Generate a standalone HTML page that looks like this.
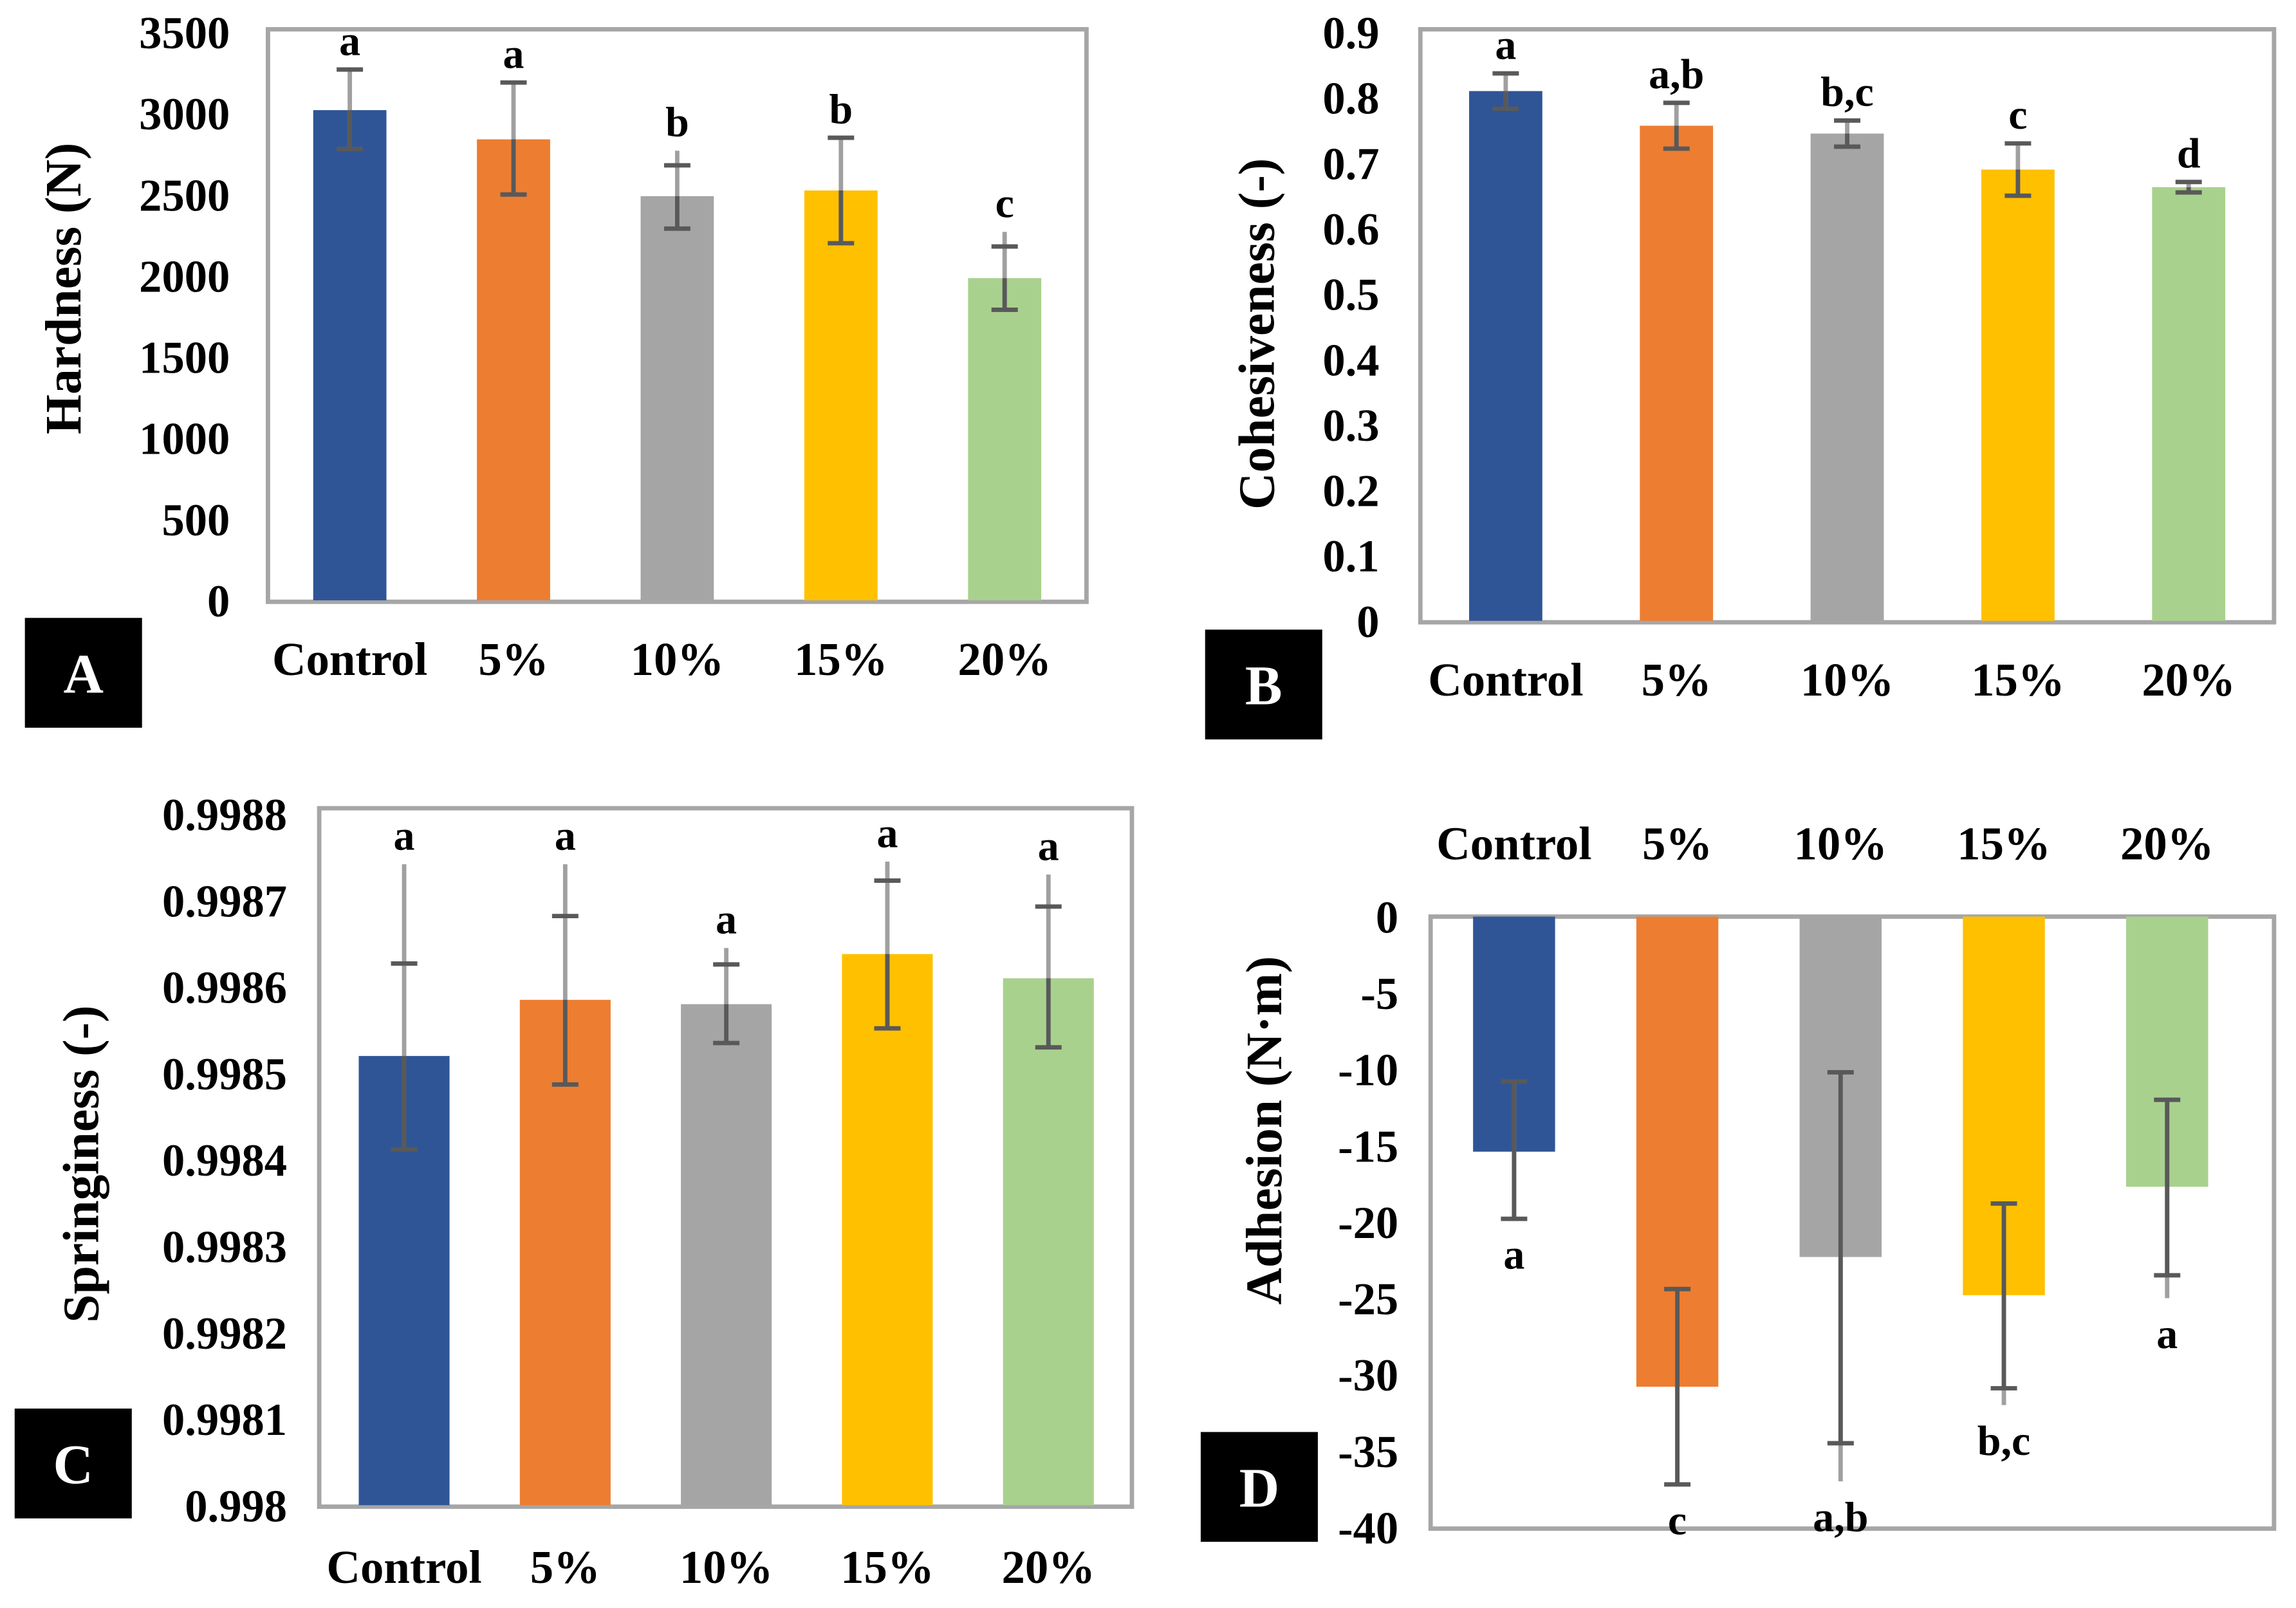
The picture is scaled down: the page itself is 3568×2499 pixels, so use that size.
<!DOCTYPE html>
<html><head><meta charset="utf-8"><style>
html,body{margin:0;padding:0;background:#fff}
svg{display:block}
text{font-family:"Liberation Serif",serif;font-weight:bold;fill:#000}
</style></head><body>
<svg id="s" width="3568" height="2499" viewBox="0 0 1568 1098.2" preserveAspectRatio="none" xmlns="http://www.w3.org/2000/svg"></svg>
<script>
const categories=["Control","5%","10%","15%","20%"];
const colors=["#2F5597","#ED7D31","#A5A5A5","#FFC000","#A9D18E"];
// Panel A
const hardValues=[3020,2840,2490,2525,1985];
const hardLow=[2780,2500,2290,2200,1790];
const hardHigh=[3270,3190,2680,2850,2180];
const hardGrey=[3270,3190,2770,2850,2270];
const hardLetters=["a","a","b","b","c"];
const hardTicks=["0","500","1000","1500","2000","2500","3000","3500"];
// Panel B
const cohValues=[0.81,0.757,0.745,0.69,0.663];
const cohLow=[0.783,0.722,0.725,0.65,0.655];
const cohHigh=[0.837,0.792,0.765,0.73,0.671];
const cohLetters=["a","a,b","b,c","c","d"];
const cohTicks=["0","0.1","0.2","0.3","0.4","0.5","0.6","0.7","0.8","0.9"];
// Panel C
const sprValues=[0.99852,0.998585,0.99858,0.998638,0.99861];
const sprLow=[0.998412,0.998487,0.998535,0.998552,0.99853];
const sprHigh=[0.998627,0.998682,0.998626,0.998723,0.998693];
const sprGrey=[0.998742,0.998742,0.998645,0.998745,0.99873];
const sprLetters=["a","a","a","a","a"];
const sprTicks=["0.998","0.9981","0.9982","0.9983","0.9984","0.9985","0.9986","0.9987","0.9988"];
// Panel D
const adhValues=[-15.4,-30.8,-22.3,-24.8,-17.7];
const adhLow=[-19.8,-37.2,-34.5,-30.9,-23.5];
const adhHigh=[-10.8,-24.4,-10.2,-18.8,-12];
const adhGrey=[-19.8,-37.2,-37,-32,-25];
const adhLetters=["a","c","a,b","b,c","a"];
const adhTicks=["-40","-35","-30","-25","-20","-15","-10","-5","0"];

const S=document.getElementById('s');
const NS="http://www.w3.org/2000/svg";
function mk(tag,attrs,txt){const e=document.createElementNS(NS,tag);for(const k in attrs)e.setAttribute(k,attrs[k]);if(txt!==undefined)e.textContent=txt;S.appendChild(e);return e;}

function panel(o){
  const y=v=>o.y0+(v-o.vmin)/(o.vmax-o.vmin)*(o.y1-o.y0);
  const fr=mk('rect',{x:o.fx0,y:o.fy0,width:o.fx1-o.fx0,height:o.fy1-o.fy0,fill:'none',stroke:'#A6A6A6','stroke-width':3});
  
  
  o.ticks.forEach((t,i)=>{
    const v=o.vmin+i*(o.vmax-o.vmin)/(o.ticks.length-1);
    const e=mk('text',{x:o.tx,y:y(v)+11,'text-anchor':'end','font-size':31},t);
    
    
  });
  const step=o.step||(o.fx1-o.fx0)/5;
  const c0=o.c0||(o.fx0+step*0.5);
  o.vals.forEach((v,i)=>{
    const cx=c0+step*i;
    const base=y(o.base), top=y(v);
    const b=mk('rect',{x:cx-o.bw/2,y:Math.min(base,top),width:o.bw,height:Math.abs(top-base),fill:colors[i]});
    
    
    const g=o.grey?o.grey[i]:o.hi[i];
    let gy1,gy2,dy1,dy2;
    if(o.neg){gy1=Math.min(o.lo[i],g);gy2=o.hi[i];dy1=o.lo[i];dy2=o.hi[i];}
    else{gy1=o.lo[i];gy2=Math.max(o.hi[i],g);dy1=o.lo[i];dy2=Math.min(o.hi[i],v);}
    const gl=mk('line',{x1:cx,x2:cx,y1:y(gy1),y2:y(gy2),stroke:'#A0A0A0','stroke-width':3});
    
    
    const dl=mk('line',{x1:cx,x2:cx,y1:y(dy1),y2:y(dy2),stroke:'#595959','stroke-width':3});
    
    
    [o.lo[i],o.hi[i]].forEach(c=>{
      const cp=mk('line',{x1:cx-9,x2:cx+9,y1:y(c),y2:y(c),stroke:'#595959','stroke-width':3});
      
      
    });
    const ly=o.neg?y(Math.min(o.lo[i],g))+34:y(Math.max(o.hi[i],g))-10;
    const lt=mk('text',{x:cx,y:ly,'text-anchor':'middle','font-size':29},o.letters[i]);
    
    
    const xl=mk('text',{x:cx,y:o.xly,'text-anchor':'middle','font-size':32},categories[i]);
    
    
  });
  const t=mk('text',{x:0,y:0,'text-anchor':'middle','font-size':35,transform:`translate(${o.ttx},${o.tty}) rotate(-90)`},o.title);
  
  
  const bx=mk('rect',{x:o.bx,y:o.by,width:80,height:75,fill:'#000'});
  
  
  const bt=mk('text',{x:o.bx+40,y:o.by+51,'text-anchor':'middle','font-size':38,style:'fill:#fff'},o.label);
  
  
}
panel({id:'hardness',fx0:183,fx1:742,fy0:20,fy1:411,y0:410,y1:22,vmin:0,vmax:3500,base:0,bw:50,vals:hardValues,lo:hardLow,hi:hardHigh,grey:hardGrey,letters:hardLetters,ticks:hardTicks,tx:157,xly:461,title:'Hardness (N)',ttx:55,tty:197,bx:17,by:422,label:'A'});
panel({id:'cohesiveness',fx0:970,fx1:1553,fy0:20,fy1:425,y0:424,y1:22,vmin:0,vmax:0.9,base:0,bw:50,vals:cohValues,lo:cohLow,hi:cohHigh,letters:cohLetters,ticks:cohTicks,tx:942,xly:475,title:'Cohesiveness (-)',ttx:870,tty:228,bx:823,by:430,label:'B'});
panel({id:'springiness',fx0:218,fx1:773,fy0:552,fy1:1029,y0:1028,y1:556,vmin:0.998,vmax:0.9988,base:0.998,bw:62,c0:276,step:110,vals:sprValues,lo:sprLow,hi:sprHigh,grey:sprGrey,letters:sprLetters,ticks:sprTicks,tx:196,xly:1081,title:'Springiness (-)',ttx:67,tty:795,bx:10,by:962,label:'C'});
panel({id:'adhesion',fx0:977,fx1:1553,fy0:626,fy1:1044,y0:1043,y1:626,vmin:-40,vmax:0,base:0,bw:56,c0:1034,step:111.5,neg:true,vals:adhValues,lo:adhLow,hi:adhHigh,grey:adhGrey,letters:adhLetters,ticks:adhTicks,tx:955,xly:587,title:'Adhesion (N·m)',ttx:875,tty:772,bx:820,by:978,label:'D'});
</script>
</body></html>
